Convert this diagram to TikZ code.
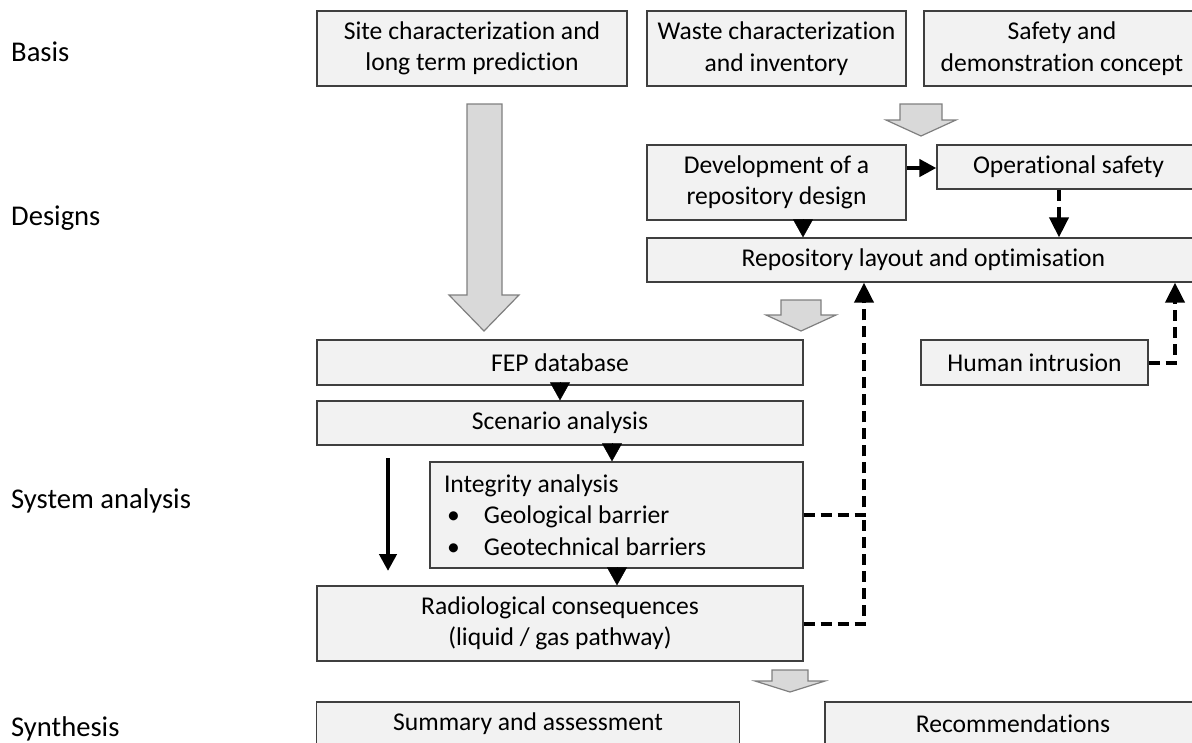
\documentclass[tikz,border=0pt]{standalone}
\usepackage{fontspec}
\setmainfont{Carlito}[Ligatures={NoCommon}]
\usetikzlibrary{arrows.meta}
\definecolor{boxfill}{HTML}{F2F2F2}
\definecolor{boxline}{HTML}{3F3F3F}
\definecolor{gfill}{HTML}{D9D9D9}
\definecolor{gline}{HTML}{7F7F7F}
\tikzset{
  box/.style={draw=boxline, fill=boxfill, line width=1.3pt, inner sep=0pt, align=center,
    font=\fontsize{25.6}{31.5}\selectfont},
  lbl/.style={anchor=west, inner sep=0pt, font=\fontsize{28.6}{33}\selectfont},
  tri/.style={line width=0.5pt, -{Triangle[width=20pt,length=18pt]}},
  solidarr/.style={line width=4.5pt, -{Triangle[width=17pt,length=17pt]}},
  dashline/.style={line width=4pt, dash pattern=on 11pt off 6pt},
  dasharr/.style={dashline, -{Triangle[width=19pt,length=20pt]}},
  gblock/.style={draw=gline, fill=gfill, line width=1.2pt, line join=miter},
}
\begin{document}
\begin{tikzpicture}[x=1pt,y=-1pt]
\useasboundingbox (0,0) rectangle (1192,742);
% row labels
\node[lbl] (lbasis) at (11,52) {Basis};
\node[lbl] (ldesign) at (11,218) {Designs};
\node[lbl] (lsys) at (11,501) {System analysis};
\node[lbl] (lsyn) at (11,729) {Synthesis};
% basis boxes
\node[box, minimum width=310, minimum height=75] (site) at (472,48.5) {Site characterization and\\long term prediction};
\node[box, minimum width=259, minimum height=75] (waste) at (776.5,48.5) {Waste characterization\\and inventory};
\node[box, minimum width=276, minimum height=75] (safety) at (1062,48.5) {Safety and\\demonstration concept};
% designs
\node[box, minimum width=259, minimum height=75] (dev) at (776.5,182.5) {Development of a\\repository design};
\node[box, minimum width=263, minimum height=44] (ops) at (1068.5,167) {Operational safety};
\node[box, minimum width=553, minimum height=44] (repo) at (923.5,260) {Repository layout and optimisation};
% system analysis
\node[box, minimum width=486, minimum height=45] (fep) at (560,362.5) {FEP database};
\node[box, minimum width=486, minimum height=44] (scen) at (560,423) {Scenario analysis};
\node[box, minimum width=373, minimum height=106, text width=345, inner xsep=14pt, align=flush left] (integ) at (616.5,515)
  {Integrity analysis\\\hspace*{3pt}\makebox[37pt][l]{\textbullet}Geological barrier\\\hspace*{3pt}\makebox[37pt][l]{\textbullet}Geotechnical barriers};
\node[box, minimum width=486, minimum height=75] (radio) at (560,623.5) {Radiological consequences\\(liquid / gas pathway)};
\node[box, minimum width=227, minimum height=45] (human) at (1034.5,362.5) {Human intrusion};
% synthesis
\node[box, minimum width=423, minimum height=44] (summ) at (528,724) {Summary and assessment};
\node[box, minimum width=376, minimum height=44] (reco) at (1013,724) {Recommendations};
% gray block arrows
\draw[gblock] (467,104) -- (502,104) -- (502,295) -- (519,295) -- (484,331) -- (449,295) -- (467,295) -- cycle;
\draw[gblock] (900,104) -- (942,104) -- (942,120) -- (956,120) -- (921,136) -- (886,120) -- (900,120) -- cycle;
\draw[gblock] (781,300) -- (821,300) -- (821,315) -- (836,315) -- (801,331) -- (766,315) -- (781,315) -- cycle;
\draw[gblock] (772,670) -- (808,670) -- (808,681) -- (825,681) -- (790,692) -- (755,681) -- (772,681) -- cycle;
% connectors
\draw[solidarr] (dev.east |- 0,168) -- (ops.west |- 0,168);
\draw[tri] (dev.south -| 803,0) -- (repo.north -| 803,0);
\draw[dasharr] (ops.south -| 1059,0) -- (repo.north -| 1059,0);
\draw[tri] (fep.south) -- (scen.north);
\draw[tri] (scen.south -| 612,0) -- (integ.north -| 612,0);
\draw[tri] (integ.south -| 617,0) -- (radio.north -| 617,0);
\coordinate (la) at (388,458);
\coordinate (lb) at (388,571);
\draw[solidarr] (la) -- (lb);
\coordinate (join) at (864,515);
\draw[dasharr] (integ.east) -| (repo.south -| join);
\draw[dashline] (radio.east) -| (join);
\draw[dasharr] (human.east) -| (repo.south -| 1175,0);
\end{tikzpicture}
\end{document}
